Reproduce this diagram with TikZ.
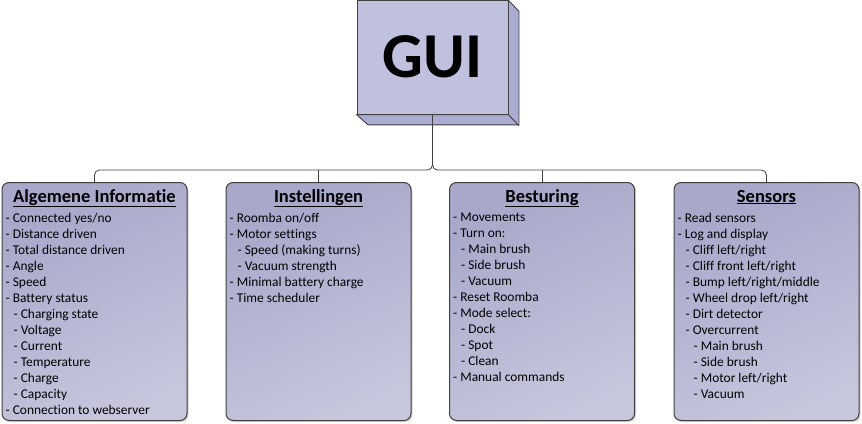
\documentclass[tikz,border=0pt]{standalone}
\usepackage{fontspec}
\setmainfont{Carlito}[Ligatures=NoCommon]
\usetikzlibrary{shadows}
\definecolor{edgegrey}{HTML}{404040}
\definecolor{boxdark}{HTML}{A7A8CA}
\definecolor{boxlight}{HTML}{C6C6DD}
\definecolor{guifront}{HTML}{C0C0DF}
\definecolor{guiside}{HTML}{ABACD2}
\tikzset{
  guibox/.style={draw=edgegrey, fill=guifront, line width=0.9pt, minimum width=151pt, minimum height=113.5pt, inner sep=0pt, font=\fontsize{64}{64}\selectfont\bfseries},
  topic/.style={draw=edgegrey, line width=1pt, rounded corners=7pt, top color=boxdark, bottom color=boxlight, shading angle=25, minimum width=185pt, minimum height=238pt, inner sep=0pt, anchor=north, drop shadow={shadow xshift=1.5pt, shadow yshift=-1.5pt, opacity=0.35}},
  head/.style={anchor=base, inner sep=0pt, font=\fontsize{18.5}{20}\selectfont\bfseries},
  items/.style={anchor=north west, align=left, inner sep=0pt, font=\fontsize{13.4}{16}\selectfont},
  conn/.style={draw=edgegrey, line width=0.8pt, rounded corners=5pt}
}
\newcommand{\sub}{\hspace*{8pt}}
\begin{document}
\begin{tikzpicture}[x=1pt,y=-1pt]
\useasboundingbox (0,0) rectangle (862,423);
% GUI block
\node[guibox] (gui) at (432.5,57.5) {};
\fill[guiside, draw=edgegrey, line width=0.9pt] (gui.north east) -- ++(10.5,11) -- ++(0,113.5) -- ++(-151,0) -- (gui.south west) -- (gui.south east) -- cycle;
\node[guibox] (gui) at (432.5,57.5) {\raisebox{2pt}{GUI}};
\draw[edgegrey, line width=0.9pt] (gui.south east) -- ++(10.5,11);
% topic boxes
\node[topic] (alg) at (94.5,182) {};
\node[topic] (ins) at (318.5,182) {};
\node[topic] (bes) at (542,182) {};
\node[topic] (sen) at (766.5,182) {};
\coordinate (bus) at (432.5,170);
% connectors
\draw[conn] (gui.south) |- (alg.north |- bus) -- (alg.north);
\draw[conn] (gui.south) |- (sen.north |- bus) -- (sen.north);
\draw[conn] (ins.north |- bus) -- (ins.north);
\draw[conn] (bes.north |- bus) -- (bes.north);
% headings
\node[head] (algh) at ([yshift=-20pt]alg.north) {\underline{Algemene Informatie}};
\node[head] (insh) at ([yshift=-20pt]ins.north) {\underline{Instellingen}};
\node[head] (besh) at ([yshift=-20pt]bes.north) {\underline{Besturing}};
\node[head] (senh) at ([yshift=-20pt]sen.north) {\underline{Sensors}};
% lists
\node[items] (algl) at ([xshift=4pt,yshift=-31pt]alg.north west) {- Connected yes/no\\- Distance driven\\- Total distance driven\\- Angle\\- Speed\\- Battery status\\\sub- Charging state\\\sub- Voltage\\\sub- Current\\\sub- Temperature\\\sub- Charge\\\sub- Capacity\\- Connection to webserver};
\node[items] (insl) at ([xshift=4pt,yshift=-31pt]ins.north west) {- Roomba on/off\\- Motor settings\\\sub- Speed (making turns)\\\sub- Vacuum strength\\- Minimal battery charge\\- Time scheduler};
\node[items] (besl) at ([xshift=4pt,yshift=-31pt]bes.north west) {- Movements\\- Turn on:\\\sub- Main brush\\\sub- Side brush\\\sub- Vacuum\\- Reset Roomba\\- Mode select:\\\sub- Dock\\\sub- Spot\\\sub- Clean\\- Manual commands};
\node[items] (senl) at ([xshift=4pt,yshift=-31pt]sen.north west) {- Read sensors\\- Log and display\\\sub- Cliff left/right\\\sub- Cliff front left/right\\\sub- Bump left/right/middle\\\sub- Wheel drop left/right\\\sub- Dirt detector\\\sub- Overcurrent\\\sub\sub- Main brush\\\sub\sub- Side brush\\\sub\sub- Motor left/right\\\sub\sub- Vacuum};
\end{tikzpicture}
\end{document}
